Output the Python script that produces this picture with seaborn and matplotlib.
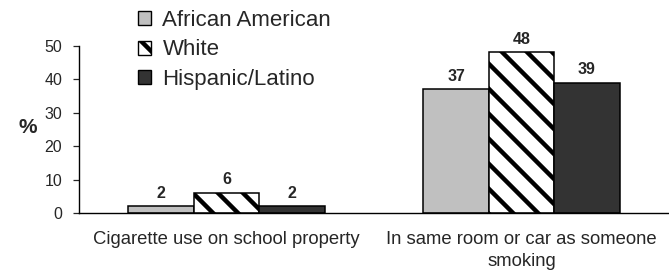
import matplotlib
matplotlib.use("Agg")
import matplotlib.pyplot as plt
import seaborn as sns
import pandas as pd
from matplotlib.patches import Patch

categories = ["Cigarette use on school property", "In same room or car as someone\nsmoking"]
groups = ["African American", "White", "Hispanic/Latino"]
african_american = [2, 37]
white = [6, 48]
hispanic = [2, 39]
yticks = [0, 10, 20, 30, 40, 50]

DPI = 75
S = 100 / DPI  # sizes below are given as at 100 dpi

sns.set_style("white")
plt.rcParams["font.family"] = ["Liberation Sans", "DejaVu Sans"]
plt.rcParams["hatch.linewidth"] = 3.2 * S
plt.rcParams["hatch.color"] = "black"

rows = []
for g, vals in zip(groups, [african_american, white, hispanic]):
    for c, v in zip(categories, vals):
        rows.append({"category": c, "group": g, "value": v})
df = pd.DataFrame(rows)

colors = {"African American": "#C0C0C0", "White": "#FFFFFF", "Hispanic/Latino": "#333333"}

fig = plt.figure(figsize=(669 / DPI, 276 / DPI), dpi=DPI)
ax = fig.add_axes([79 / 669, 63 / 276, 590 / 669, 167.3 / 276])

sns.barplot(data=df, x="category", y="value", hue="group", hue_order=groups,
            order=categories, palette=colors, width=0.665, gap=0,
            edgecolor="black", linewidth=1.1 * S, ax=ax, legend=False, errorbar=None)

for container, g in zip(ax.containers, groups):
    if g == "White":
        for bar in container:
            bar.set_hatch("\\")
    for bar in container:
        bar.set_clip_on(False)
    ax.bar_label(container, fmt="%d", padding=4 * S, fontsize=11.5 * S, fontweight="bold",
                 clip_on=False)

ax.set_xlim(-0.5, 1.5)
ax.set_ylim(0, 50)
ax.set_yticks(yticks)
ax.set_yticklabels([str(t) for t in yticks], fontsize=11.5 * S)
ax.set_xticks([0, 1])
ax.set_xticklabels(categories, fontsize=13.3 * S, linespacing=1.4)
ax.set_xticks([-0.5, 0.5, 1.5], minor=True)
ax.tick_params(axis="x", which="major", length=0, pad=13 * S)
ax.tick_params(axis="x", which="minor", length=4.5 * S, width=0.9 * S, direction="out", color="#444444")
ax.tick_params(axis="y", length=4 * S, width=0.9 * S, direction="out", left=True, pad=8 * S)
ax.set_xlabel("")
ax.set_ylabel("")
for s in ["top", "right"]:
    ax.spines[s].set_visible(False)
for s in ["left", "bottom"]:
    ax.spines[s].set_color("black")
    ax.spines[s].set_linewidth(1.0 * S)

fig.text(27.5 / 669, 1 - 127.5 / 276, "%", fontsize=15 * S, fontweight="bold",
         ha="center", va="center")

handles = [Patch(facecolor=colors[g], edgecolor="black", linewidth=1.0 * S,
                 hatch=("\\" if g == "White" else None), label=g) for g in groups]
fig.legend(handles=handles, loc="upper left", bbox_to_anchor=(138 / 669, 1 - 10 / 276),
           frameon=False, fontsize=16 * S, handlelength=0.6, handleheight=0.6,
           handletextpad=0.5, labelspacing=0.38, borderpad=0, borderaxespad=0)

fig.savefig("out.png", dpi=DPI)
